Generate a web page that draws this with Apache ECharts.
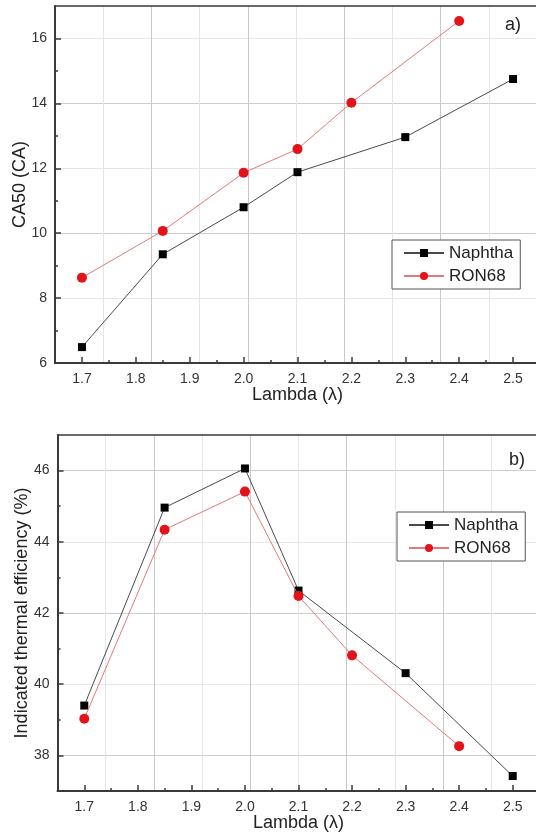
<!DOCTYPE html>
<html><head><meta charset="utf-8">
<script src="https://cdn.jsdelivr.net/npm/echarts@6/dist/echarts.min.js"></script>
<style>html,body{margin:0;padding:0;background:#fff}#c{width:536px;height:835px}</style>
</head><body><div id="c"></div>
<script>
// ---- data ----
const xTicks = [1.7, 1.8, 1.9, 2.0, 2.1, 2.2, 2.3, 2.4, 2.5];
const xMinorTicks = [1.75, 1.85, 1.95, 2.05, 2.15, 2.25, 2.35, 2.45];
const naphthaLambda = [1.7, 1.85, 2.0, 2.1, 2.3, 2.5];
const ron68Lambda = [1.7, 1.85, 2.0, 2.1, 2.2, 2.4];
const naphthaCA50 = [6.49, 9.35, 10.8, 11.88, 12.96, 14.75];
const ron68CA50 = [8.63, 10.07, 11.86, 12.59, 14.02, 16.54];
const naphthaEff = [39.40, 44.96, 46.06, 42.63, 40.31, 37.42];
const ron68Eff = [39.03, 44.34, 45.41, 42.48, 40.81, 38.26];
const caTicks = [6, 8, 10, 12, 14, 16];
const caMinorTicks = [7, 9, 11, 13, 15];
const effTicks = [38, 40, 42, 44, 46];
const effMinorTicks = [37, 39, 41, 43, 45];
const seriesNames = ['Naphtha', 'RON68'];

const FONT = '"Liberation Sans", Arial, sans-serif';
const AX = '#3a3a3a';
const zip = (xs, ys) => xs.map((x, i) => [x, ys[i]]);

const grids = [
  {left: 55, top: 6, width: 485, height: 357, outerBoundsMode: 'none', containLabel: false},
  {left: 57.5, top: 435, width: 482, height: 356, outerBoundsMode: 'none', containLabel: false}
];
const panels = [
  {yMin: 6, yMax: 17, yTicks: caTicks, yMinor: caMinorTicks, yName: 'CA50 (CA)',
   nA: naphthaCA50, rA: ron68CA50, split: ['#cdcdcd', '#e6e6e6'], nameGapX: 23, nameGapY: 26,
   legend: {left: 392, top: 240}, label: {text: 'a)', left: 500, top: 11}},
  {yMin: 37, yMax: 47, yTicks: effTicks, yMinor: effMinorTicks, yName: 'Indicated thermal efficiency (%)',
   nA: naphthaEff, rA: ron68Eff, split: ['#cdcdcd', '#e6e6e6'], nameGapX: 23, nameGapY: 26,
   legend: {left: 397, top: 512}, label: {text: 'b)', left: 504, top: 446}}
];

const xAxis = [], yAxis = [], series = [], legend = [], title = [];
panels.forEach((p, g) => {
  const W = grids[g].width;
  xAxis.push({
    gridIndex: g, type: 'value', min: 1.65, max: 2.55, position: 'bottom',
    axisLine: {show: true, onZero: false, lineStyle: {color: AX, width: 2}},
    axisTick: {show: true, inside: true, length: 6, customValues: xTicks, lineStyle: {color: AX, width: 1.5}},
    axisLabel: {customValues: xTicks, formatter: v => v.toFixed(1), fontSize: 14, color: '#333', margin: 9, fontFamily: FONT},
    splitLine: {show: false},
    name: 'Lambda (λ)', nameLocation: 'middle', nameGap: p.nameGapX, nameMoveOverlap: false,
    nameTextStyle: {fontSize: 18, color: '#222', fontFamily: FONT}
  });
  xAxis.push({
    gridIndex: g, type: 'value', min: 1.65, max: 2.55, position: 'bottom',
    axisLine: {show: false}, axisLabel: {show: false}, splitLine: {show: false},
    axisTick: {show: true, inside: true, length: 3, customValues: xMinorTicks, lineStyle: {color: AX, width: 1.5}}
  });
  xAxis.push({
    gridIndex: g, type: 'value', min: 0, max: W, interval: 48.2, position: 'top',
    axisLine: {show: true, onZero: false, lineStyle: {color: AX, width: 1.5}},
    axisTick: {show: false}, axisLabel: {show: false},
    splitLine: {show: true, lineStyle: {color: ['#c9c9c9', '#e6e6e6'], width: 1}}
  });
  yAxis.push({
    gridIndex: g, type: 'value', min: p.yMin, max: p.yMax, interval: 1, position: 'left',
    axisLine: {show: true, onZero: false, lineStyle: {color: AX, width: 2}},
    axisTick: {show: true, inside: true, length: 6, customValues: p.yTicks, lineStyle: {color: AX, width: 1.5}},
    axisLabel: {customValues: p.yTicks, fontSize: 14, color: '#333', margin: 8, fontFamily: FONT},
    splitLine: {show: true, lineStyle: {color: p.split, width: 1}},
    name: p.yName, nameLocation: 'middle', nameGap: p.nameGapY, nameRotate: 90, nameMoveOverlap: false,
    nameTextStyle: {fontSize: 18, color: '#222', fontFamily: FONT}
  });
  yAxis.push({
    gridIndex: g, type: 'value', min: p.yMin, max: p.yMax, position: 'left',
    axisLine: {show: false}, axisLabel: {show: false}, splitLine: {show: false},
    axisTick: {show: true, inside: true, length: 3, customValues: p.yMinor, lineStyle: {color: AX, width: 1.5}}
  });
  series.push({
    type: 'line', name: seriesNames[0], xAxisIndex: 3 * g, yAxisIndex: 2 * g,
    data: zip(naphthaLambda, p.nA), symbol: 'rect', symbolSize: 8,
    itemStyle: {color: '#000'}, lineStyle: {color: '#4a4a4a', width: 1}, z: 3
  });
  series.push({
    type: 'line', name: seriesNames[1], xAxisIndex: 3 * g, yAxisIndex: 2 * g,
    data: zip(ron68Lambda, p.rA), symbol: 'circle', symbolSize: 10,
    itemStyle: {color: '#e3131b'}, lineStyle: {color: '#e07a7a', width: 1}, z: 4
  });
  legend.push({
    left: p.legend.left, top: p.legend.top, orient: 'vertical', data: seriesNames,
    itemWidth: 40, itemHeight: 10, itemGap: 5, padding: [4, 7, 4, 11],
    borderColor: '#555', borderWidth: 1, backgroundColor: '#fff',
    textStyle: {fontSize: 17, color: '#222', fontFamily: FONT, lineHeight: 18}
  });
  title.push({
    text: p.label.text, left: p.label.left, top: p.label.top,
    textStyle: {fontSize: 18, fontWeight: 'normal', color: '#222', fontFamily: FONT}
  });
});

const chart = echarts.init(document.getElementById('c'), null, {renderer: 'canvas'});
chart.setOption({
  animation: false,
  backgroundColor: '#fff',
  textStyle: {fontFamily: FONT},
  grid: grids,
  xAxis, yAxis, series, legend, title
});
</script>
</body></html>
